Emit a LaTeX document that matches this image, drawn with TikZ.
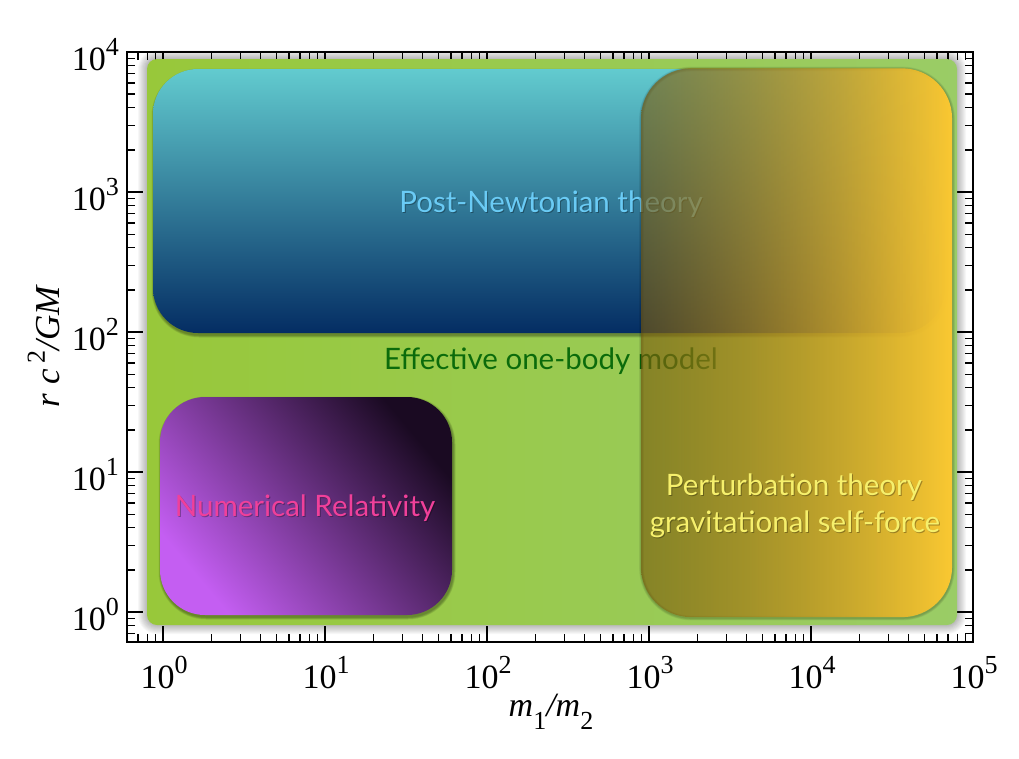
\documentclass[tikz,border=0pt]{standalone}
\usepackage{fontspec}
\setmainfont{Liberation Serif}
\newfontfamily\gill{Lato}
\usetikzlibrary{fadings}
\definecolor{greenL}{HTML}{98C83A}
\definecolor{greenR}{HTML}{9ACC66}
\definecolor{blueT}{HTML}{62CBCF}
\definecolor{blueB}{HTML}{042D63}
\definecolor{purL}{HTML}{C45EF2}
\definecolor{purD}{HTML}{1A0A22}
\definecolor{yelL}{HTML}{7A5A0C}
\definecolor{yelR}{HTML}{FAC832}
\definecolor{pnText}{HTML}{6ACBF5}
\definecolor{eobText}{HTML}{0B6B0B}
\definecolor{nrText}{HTML}{F0409A}
\definecolor{ptText}{HTML}{F6F06C}
\tikzfading[name=yfade, left color=transparent!38, right color=transparent!0]
\newcommand\softglow[6]{% x1 y1 x2 y2 radius layers
  \foreach \i in {1,...,#6}{\fill[black,opacity=0.032,rounded corners=#5+\i] (#1-\i,#2-\i) rectangle (#3+\i,#4+\i);}}
\newcommand\dropsh[5]{% x1 y1 x2 y2 radius
  \foreach \i in {1,...,5}{\fill[black,opacity=0.07,rounded corners=#5+\i/2] (#1-\i/2+1,#2-\i/2+2) rectangle (#3+\i/2+1,#4+\i/2+2);}}
\newcommand\ringsh[5]{% x1 y1 x2 y2 radius: shadow as rings only
  \foreach \i in {1,...,4}{\draw[black,opacity=0.06,line width=\i*1.2pt,rounded corners=#5] (#1+0.5,#2+1) rectangle (#3+0.5,#4+1);}}
\begin{document}
\begin{tikzpicture}[x=1pt,y=-1pt,
  tick/.style={line width=1.3pt,black},
  frame/.style={line width=1.8pt,black},
  ticklab/.style={font=\fontsize{34}{34}\selectfont,inner sep=0pt},
  region/.style={font=\gill\fontsize{29.5}{34}\selectfont,inner sep=0pt},
  txtsh/.style={region,text=black,opacity=0.3}]
\newcommand\tl[1]{10\raisebox{15pt}{\fontsize{26}{26}\selectfont #1}}
% canvas
\fill[white] (0,0) rectangle (1019,758);
\useasboundingbox (0,0) rectangle (1019,758);
% minor ticks
\foreach \d in {-1,0,1,2,3,4}{
  \foreach \m in {2,...,9}{
    \pgfmathsetmacro\xx{163+162*(\d+log10(\m))}
    \ifdim\xx pt>128pt \ifdim\xx pt<972pt
      \draw[tick] (\xx,642) -- ++(0,-8);
      \draw[tick] (\xx,52) -- ++(0,8);
    \fi\fi
    \pgfmathsetmacro\yy{612-140*(\d+log10(\m))}
    \ifdim\yy pt>53pt \ifdim\yy pt<641pt
      \draw[tick] (127,\yy) -- ++(8,0);
      \draw[tick] (973,\yy) -- ++(-8,0);
    \fi\fi
  }}
% major ticks
\foreach \d in {0,...,4}{
  \pgfmathsetmacro\xx{163+162*\d}
  \draw[tick] (\xx,642) -- ++(0,-16);
  \draw[tick] (\xx,52) -- ++(0,16);}
\foreach \d in {0,...,3}{
  \pgfmathsetmacro\yy{612-140*\d}
  \draw[tick] (127,\yy) -- ++(16,0);
  \draw[tick] (973,\yy) -- ++(-16,0);}
% green region
\softglow{147}{59}{957}{625}{10}{9}
\shade[left color=greenL,right color=greenR,rounded corners=10] (147,59) rectangle (957,625);
% blue box
\dropsh{153}{69}{945}{333}{45}
\shade[top color=blueT,bottom color=blueB,rounded corners=45] (153,69) rectangle (945,333);
% purple box
\dropsh{160}{397}{452}{615}{45}
\shade[shading=axis,top color=purD,bottom color=purL,shading angle=-50,rounded corners=45] (160,397) rectangle (452,615);
% texts under the overlay
\node[txtsh,anchor=base] at (552,213.5) {Post-Newtonian theory};
\node[region,text=pnText,anchor=base] (pn) at (551,212) {Post-Newtonian theory};
\node[region,text=eobText,anchor=base] (eob) at (551,369) {Effective one-body model};
\node[txtsh,anchor=base] at (306,517.5) {Numerical Relativity};
\node[region,text=nrText,anchor=base] (nr) at (305,516) {Numerical Relativity};
% yellow overlay
\ringsh{641}{68}{952}{617}{50}
\path[left color=yelL,right color=yelR,path fading=yfade,rounded corners=50] (641,68) rectangle (952,617);
\node[txtsh,anchor=base] at (795,496.5) {Perturbation theory};
\node[txtsh,anchor=base] at (796,533.5) {gravitational self-force};
\node[region,text=ptText,anchor=base] (pt1) at (794,495) {Perturbation theory};
\node[region,text=ptText,anchor=base] (pt2) at (795,532) {gravitational self-force};
% frame
\draw[frame] (127,52) rectangle (973,642);
% tick labels
\foreach \d in {0,...,5}{
  \node[ticklab,anchor=base] (xl\d) at (163+162*\d+1,688) {\tl{\d}};}
\foreach \d in {0,...,4}{
  \node[ticklab,anchor=base east] (yl\d) at (119,612-140*\d+18) {\tl{\d}};}
% axis labels
\node[font=\fontsize{34}{34}\selectfont,inner sep=0pt] (xlab) at (551,712)
  {\textit{m}\raisebox{-13pt}{\fontsize{26}{26}\selectfont 1}\textit{/m}\raisebox{-13pt}{\fontsize{26}{26}\selectfont 2}};
\node[font=\fontsize{35}{35}\selectfont,inner sep=0pt,rotate=90] (ylab) at (44,346)
  {\textit{r c}\,\raisebox{15pt}{\fontsize{26}{26}\selectfont 2}\textit{/GM}};
\end{tikzpicture}
\end{document}
